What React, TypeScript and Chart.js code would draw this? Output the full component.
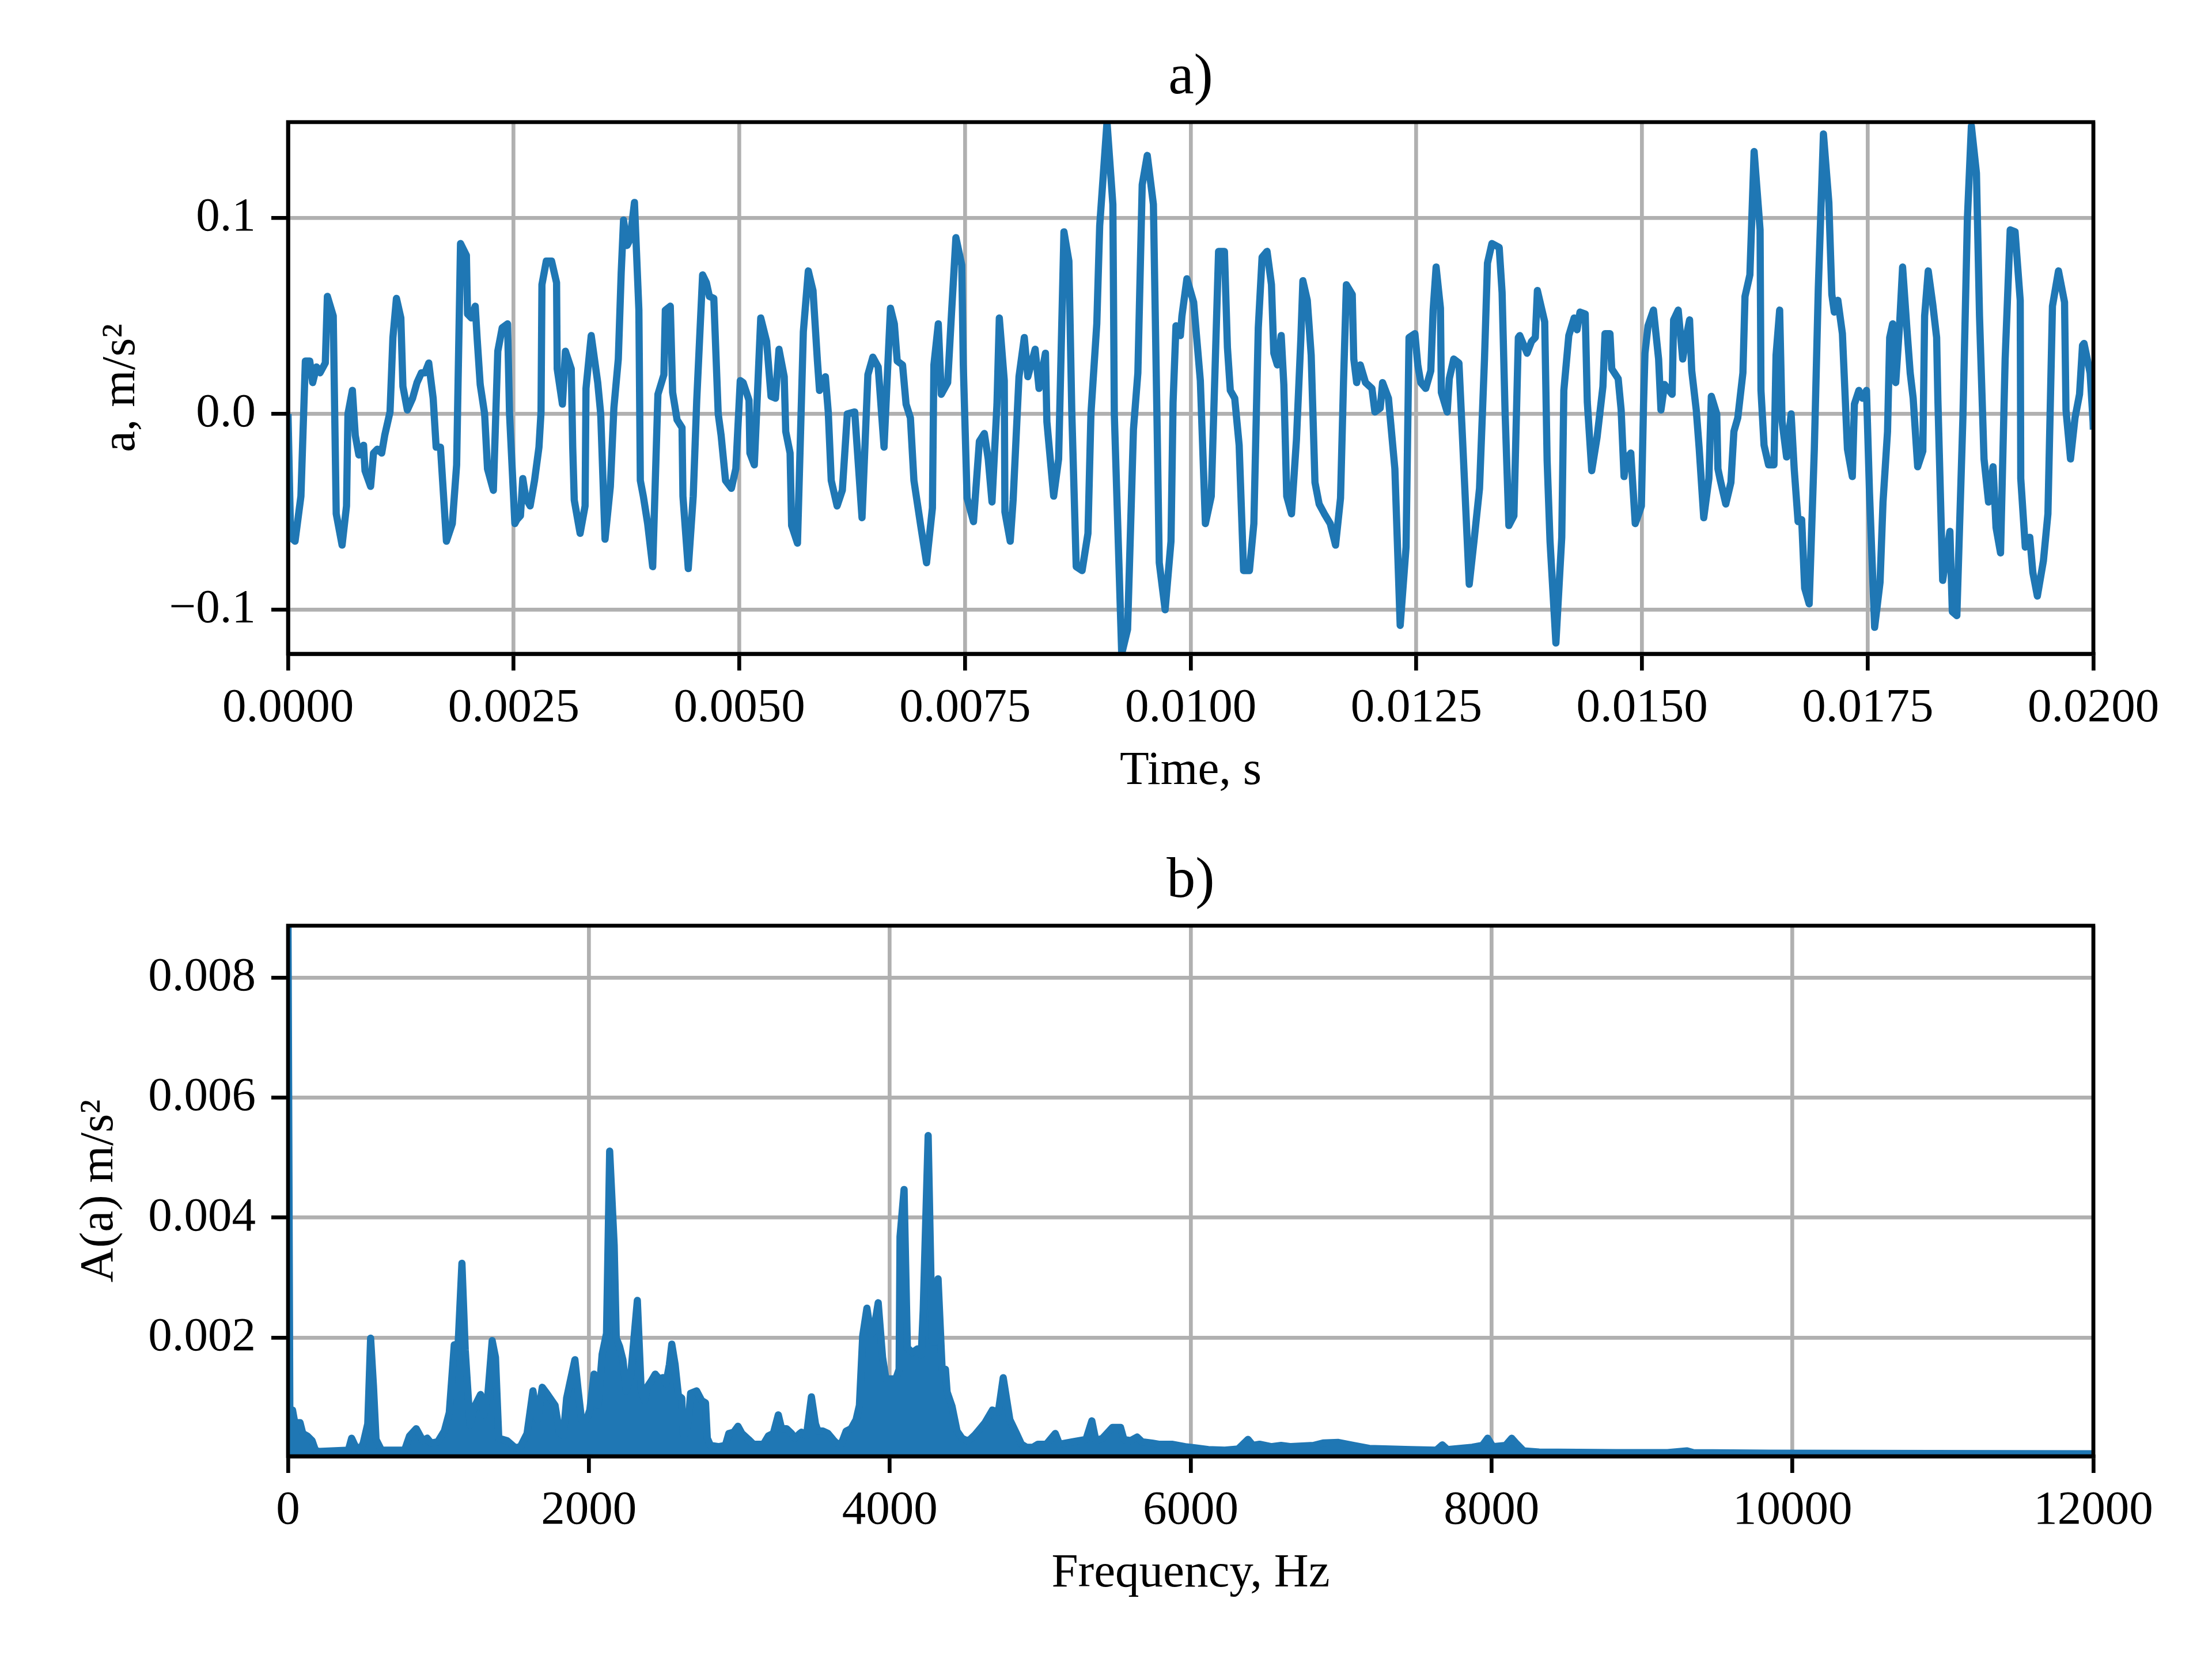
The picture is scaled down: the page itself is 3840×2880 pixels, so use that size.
import React, { useEffect, useRef } from "react";
import { Chart, registerables } from "chart.js";

Chart.register(...registerables);

// ---------- data: time signal (panel a) ----------
const TIME_S = [
  0, 0.029e-3, 0.078e-3, 0.143e-3, 0.192e-3, 0.241e-3, 0.273e-3, 0.316e-3, 0.355e-3, 0.413e-3,
  0.436e-3, 0.501e-3, 0.518e-3, 0.534e-3, 0.599e-3, 0.648e-3, 0.664e-3, 0.713e-3, 0.745e-3, 0.785e-3,
  0.837e-3, 0.853e-3, 0.915e-3, 0.947e-3, 0.99e-3, 1.038e-3, 1.071e-3, 1.13e-3, 1.162e-3, 1.201e-3,
  1.25e-3, 1.273e-3, 1.322e-3, 1.38e-3, 1.429e-3, 1.478e-3, 1.517e-3, 1.559e-3, 1.608e-3, 1.641e-3,
  1.689e-3, 1.755e-3, 1.82e-3, 1.868e-3, 1.911e-3, 1.976e-3, 1.989e-3, 2.031e-3, 2.074e-3, 2.096e-3,
  2.129e-3, 2.178e-3, 2.21e-3, 2.275e-3, 2.324e-3, 2.373e-3, 2.432e-3, 2.454e-3, 2.513e-3, 2.536e-3,
  2.575e-3, 2.601e-3, 2.634e-3, 2.682e-3, 2.731e-3, 2.78e-3, 2.803e-3, 2.813e-3, 2.861e-3, 2.92e-3,
  2.975e-3, 2.982e-3, 3.04e-3, 3.073e-3, 3.138e-3, 3.154e-3, 3.171e-3, 3.236e-3, 3.291e-3, 3.301e-3,
  3.359e-3, 3.431e-3, 3.464e-3, 3.512e-3, 3.571e-3, 3.61e-3, 3.659e-3, 3.691e-3, 3.717e-3, 3.756e-3,
  3.789e-3, 3.838e-3, 3.887e-3, 3.903e-3, 3.936e-3, 3.984e-3, 4.04e-3, 4.098e-3, 4.164e-3, 4.18e-3,
  4.235e-3, 4.261e-3, 4.31e-3, 4.365e-3, 4.375e-3, 4.434e-3, 4.489e-3, 4.528e-3, 4.593e-3, 4.635e-3,
  4.668e-3, 4.717e-3, 4.766e-3, 4.798e-3, 4.847e-3, 4.912e-3, 4.961e-3, 5.01e-3,
  5.042e-3, 5.107e-3, 5.117e-3, 5.166e-3, 5.237e-3, 5.302e-3, 5.351e-3, 5.4e-3, 5.439e-3, 5.497e-3,
  5.514e-3, 5.562e-3, 5.579e-3, 5.644e-3, 5.709e-3, 5.764e-3, 5.816e-3, 5.865e-3, 5.888e-3, 5.953e-3,
  5.985e-3, 6.018e-3, 6.083e-3, 6.141e-3, 6.196e-3, 6.278e-3, 6.359e-3, 6.424e-3, 6.479e-3, 6.538e-3,
  6.603e-3, 6.674e-3, 6.717e-3, 6.749e-3, 6.808e-3, 6.847e-3, 6.895e-3, 6.934e-3, 7.009e-3, 7.074e-3,
  7.139e-3, 7.155e-3, 7.204e-3, 7.237e-3, 7.308e-3, 7.35e-3, 7.399e-3, 7.464e-3, 7.481e-3, 7.523e-3,
  7.594e-3, 7.659e-3, 7.714e-3, 7.757e-3, 7.799e-3, 7.854e-3, 7.88e-3, 7.935e-3, 7.942e-3, 8.001e-3,
  8.033e-3, 8.098e-3, 8.157e-3, 8.196e-3, 8.277e-3, 8.32e-3, 8.391e-3, 8.407e-3, 8.482e-3, 8.537e-3,
  8.596e-3, 8.651e-3, 8.683e-3, 8.732e-3, 8.797e-3, 8.862e-3, 8.895e-3, 8.96e-3, 8.992e-3, 9.073e-3,
  9.138e-3, 9.154e-3, 9.236e-3, 9.301e-3, 9.366e-3, 9.415e-3, 9.463e-3, 9.519e-3, 9.587e-3, 9.626e-3,
  9.652e-3, 9.717e-3, 9.782e-3, 9.805e-3, 9.837e-3, 9.886e-3, 9.903e-3, 9.958e-3,
  10.033e-3, 10.107e-3, 10.163e-3, 10.228e-3, 10.309e-3, 10.374e-3, 10.407e-3, 10.439e-3, 10.488e-3, 10.537e-3,
  10.586e-3, 10.651e-3, 10.7e-3, 10.749e-3, 10.791e-3, 10.846e-3, 10.895e-3, 10.921e-3, 10.96e-3, 11.003e-3,
  11.032e-3, 11.064e-3, 11.117e-3, 11.172e-3, 11.221e-3, 11.243e-3, 11.292e-3, 11.335e-3, 11.377e-3, 11.423e-3,
  11.481e-3, 11.546e-3, 11.605e-3, 11.66e-3, 11.693e-3, 11.725e-3, 11.79e-3, 11.807e-3, 11.839e-3, 11.879e-3,
  11.937e-3, 12.008e-3, 12.041e-3, 12.1e-3, 12.126e-3, 12.191e-3, 12.262e-3, 12.321e-3, 12.386e-3, 12.419e-3,
  12.484e-3, 12.516e-3, 12.549e-3, 12.604e-3, 12.66e-3, 12.686e-3, 12.719e-3, 12.767e-3, 12.777e-3, 12.842e-3,
  12.865e-3, 12.914e-3, 12.972e-3, 13.011e-3, 13.086e-3, 13.141e-3, 13.2e-3, 13.255e-3, 13.288e-3, 13.337e-3,
  13.418e-3, 13.45e-3, 13.483e-3, 13.525e-3, 13.581e-3, 13.63e-3, 13.646e-3, 13.727e-3, 13.776e-3, 13.818e-3,
  13.841e-3, 13.922e-3, 13.949e-3, 13.981e-3, 14.046e-3, 14.111e-3, 14.134e-3, 14.189e-3, 14.248e-3, 14.28e-3,
  14.313e-3, 14.371e-3, 14.394e-3, 14.443e-3, 14.502e-3, 14.567e-3, 14.59e-3, 14.645e-3, 14.665e-3, 14.736e-3,
  14.769e-3, 14.801e-3, 14.827e-3, 14.876e-3, 14.925e-3, 14.964e-3,
  14.993e-3, 15.017e-3, 15.033e-3, 15.067e-3, 15.127e-3, 15.184e-3, 15.21e-3, 15.25e-3, 15.334e-3, 15.35e-3,
  15.401e-3, 15.451e-3, 15.484e-3, 15.527e-3, 15.551e-3, 15.601e-3, 15.634e-3, 15.684e-3, 15.741e-3, 15.768e-3,
  15.828e-3, 15.841e-3, 15.868e-3, 15.928e-3, 15.985e-3, 16.018e-3, 16.061e-3, 16.118e-3, 16.141e-3, 16.195e-3,
  16.242e-3, 16.308e-3, 16.318e-3, 16.352e-3, 16.402e-3, 16.462e-3, 16.485e-3, 16.525e-3, 16.552e-3, 16.602e-3,
  16.652e-3, 16.686e-3, 16.729e-3, 16.769e-3, 16.802e-3, 16.852e-3, 16.909e-3, 16.953e-3, 17.01e-3, 17.07e-3,
  17.103e-3, 17.13e-3, 17.17e-3, 17.22e-3, 17.276e-3, 17.33e-3, 17.353e-3, 17.403e-3, 17.443e-3, 17.487e-3,
  17.52e-3, 17.577e-3, 17.637e-3, 17.67e-3, 17.72e-3, 17.744e-3, 17.777e-3, 17.811e-3, 17.854e-3, 17.887e-3,
  17.937e-3, 17.971e-3, 18.004e-3, 18.054e-3, 18.111e-3, 18.131e-3, 18.171e-3, 18.221e-3, 18.264e-3, 18.278e-3,
  18.331e-3, 18.411e-3, 18.438e-3, 18.488e-3, 18.555e-3, 18.605e-3, 18.649e-3, 18.705e-3, 18.739e-3, 18.789e-3,
  18.839e-3, 18.889e-3, 18.922e-3, 18.972e-3, 19.023e-3, 19.079e-3, 19.133e-3, 19.19e-3, 19.196e-3, 19.246e-3,
  19.296e-3, 19.33e-3, 19.38e-3, 19.447e-3, 19.497e-3, 19.547e-3, 19.614e-3, 19.681e-3, 19.697e-3, 19.747e-3,
  19.797e-3, 19.847e-3, 19.88e-3, 19.897e-3, 19.964e-3, 19.997e-3, 20.0e-3,
];

const ACCEL = [
  0.0, -0.063, -0.065, -0.042, 0.027, 0.027, 0.016, 0.024, 0.021, 0.026,
  0.06, 0.05, -0.002, -0.051, -0.067, -0.047, 0.0, 0.012, -0.011, -0.021,
  -0.016, -0.029, -0.037, -0.02, -0.018, -0.02, -0.011, 0.001, 0.039, 0.059,
  0.049, 0.014, 0.002, 0.008, 0.016, 0.021, 0.021, 0.026, 0.008, -0.017,
  -0.017, -0.065, -0.056, -0.026, 0.087, 0.081, 0.051, 0.049, 0.055, 0.038,
  0.015, 0.0, -0.028, -0.039, 0.032, 0.044, 0.046, 0.0, -0.056, -0.054,
  -0.052, -0.033, -0.043, -0.047, -0.034, -0.017, 0.001, 0.066, 0.078, 0.078,
  0.067, 0.023, 0.005, 0.032, 0.023, -0.017, -0.044, -0.061, -0.047, 0.013,
  0.04, 0.016, 0.0, -0.064, -0.037, 0.003, 0.028, 0.072, 0.099, 0.086,
  0.089, 0.108, 0.053, -0.034, -0.042, -0.056, -0.078, 0.01, 0.02, 0.053,
  0.055, 0.011, -0.003, -0.007, -0.042, -0.079, -0.042, 0.007, 0.071, 0.067,
  0.06, 0.059, 0.0, -0.011, -0.034, -0.038, -0.028, 0.017,
  0.016, 0.007, -0.02, -0.026, 0.049, 0.037, 0.009, 0.008, 0.033, 0.019,
  -0.009, -0.02, -0.057, -0.066, 0.042, 0.073, 0.063, 0.027, 0.012, 0.019,
  0.001, -0.034, -0.047, -0.039, 0.0, 0.001, -0.053, 0.02, 0.029, 0.024,
  -0.017, 0.054, 0.046, 0.027, 0.025, 0.005, -0.002, -0.034, -0.057, -0.076,
  -0.048, 0.025, 0.046, 0.01, 0.016, 0.051, 0.09, 0.076, 0.025, -0.043,
  -0.055, -0.014, -0.01, -0.023, -0.045, 0.005, 0.049, 0.017, -0.05, -0.065,
  -0.044, 0.019, 0.039, 0.019, 0.033, 0.013, 0.031, -0.004, -0.042, -0.023,
  0.093, 0.078, 0.001, -0.078, -0.08, -0.061, 0.0, 0.046, 0.096, 0.149,
  0.107, 0.0, -0.1225, -0.11, -0.008, 0.021, 0.117, 0.132, 0.107, 0.0,
  -0.076, -0.1, -0.065, 0.006, 0.045, 0.04, 0.05, 0.069,
  0.057, 0.017, -0.056, -0.042, 0.083, 0.083, 0.034, 0.012, 0.008, -0.016,
  -0.08, -0.08, -0.056, 0.044, 0.08, 0.083, 0.066, 0.031, 0.025, 0.04,
  0.015, -0.042, -0.051, -0.013, 0.039, 0.068, 0.058, 0.03, -0.035, -0.046,
  -0.051, -0.056, -0.067, -0.043, 0.016, 0.066, 0.061, 0.028, 0.016, 0.025,
  0.016, 0.013, 0.001, 0.003, 0.016, 0.008, -0.028, -0.108, -0.068, 0.039,
  0.041, 0.025, 0.016, 0.013, 0.022, 0.053, 0.075, 0.054, 0.011, 0.001,
  0.018, 0.028, 0.026, -0.012, -0.087, -0.064, -0.038, 0.028, 0.077, 0.087,
  0.085, 0.062, 0.001, -0.057, -0.052, 0.039, 0.04, 0.031, 0.037, 0.039,
  0.063, 0.047, -0.024, -0.065, -0.117, -0.063, 0.012, 0.04, 0.049, 0.043,
  0.052, 0.051, 0.006, -0.029, -0.012, 0.014, 0.041, 0.041, 0.023, 0.018,
  0.002, -0.032, -0.023, -0.02, -0.056, -0.051,
  -0.047, 0.005, 0.031, 0.045, 0.053, 0.028, 0.002, 0.015, 0.01, 0.048,
  0.053, 0.028, 0.038, 0.048, 0.022, 0.002, -0.018, -0.053, -0.033, 0.009,
  0.0, -0.028, -0.034, -0.046, -0.035, -0.009, -0.002, 0.021, 0.06, 0.071,
  0.134, 0.094, 0.012, -0.016, -0.026, -0.026, 0.03, 0.053, -0.004, -0.022,
  0.0, -0.028, -0.055, -0.054, -0.089, -0.097, -0.018, 0.064, 0.143, 0.108,
  0.061, 0.052, 0.058, 0.041, -0.018, -0.032, 0.005, 0.012, 0.008, 0.012,
  -0.04, -0.109, -0.086, -0.045, -0.009, 0.039, 0.046, 0.016, 0.046, 0.075,
  0.042, 0.021, 0.008, -0.027, -0.019, 0.05, 0.073, 0.056, 0.039, 0.007,
  -0.085, -0.06, -0.101, -0.103, -0.002, 0.1, 0.147, 0.123, 0.05, -0.023,
  -0.045, -0.027, -0.058, -0.071, 0.028, 0.094, 0.093, 0.058, -0.033, -0.068,
  -0.063, -0.081, -0.093, -0.075, -0.051, 0.055, 0.073, 0.057, 0.002, -0.023,
  -0.002, 0.01, 0.035, 0.036, 0.021, -0.004, -0.008,
];

// ---------- data: amplitude spectrum (panel b) ----------
const FREQ_HZ = [
  0, 12, 30, 45, 80, 98, 127, 160, 182, 204, 401, 423, 445, 478, 500, 530, 549, 568, 585, 621,
  775, 808, 852, 896, 925, 951, 995, 1039, 1072, 1105, 1130, 1156, 1178, 1210, 1236, 1280, 1302, 1329, 1357, 1379,
  1401, 1456, 1511, 1545, 1589, 1628, 1659, 1690, 1720, 1775, 1804, 1830, 1852, 1874, 1907, 1929, 1951, 1984, 2006, 2034,
  2061, 2088, 2117, 2138, 2168, 2182, 2204, 2226, 2248, 2278, 2322, 2347, 2369, 2391, 2413, 2441, 2468, 2490, 2512, 2535,
  2551, 2573, 2595, 2617, 2626, 2643, 2661, 2676, 2716, 2749, 2775, 2787, 2808, 2863, 2907, 2930, 2962, 2991, 3017, 3061,
  3094, 3160, 3193, 3226, 3259, 3281, 3314, 3347, 3369, 3402, 3413, 3446, 3479, 3506, 3523, 3556, 3589, 3622, 3644, 3677,
  3710, 3743, 3776, 3798, 3820, 3848, 3875, 3893, 3923, 3952, 3974, 4040, 4062, 4068, 4095, 4117, 4150, 4183, 4209, 4222,
  4255, 4282, 4304, 4321, 4348, 4370, 4381, 4414, 4447, 4480, 4512, 4534, 4567, 4600, 4633, 4682, 4721, 4754, 4798, 4842,
  4875, 4908, 4952, 4985, 5040, 5100, 5128, 5216, 5260, 5304, 5343, 5370, 5414, 5480, 5534, 5556, 5600, 5644, 5677, 5743,
  5787, 5875, 5963, 6029, 6117, 6227, 6315, 6381, 6414, 6458, 6535, 6601, 6667, 6816, 6880, 6982, 7085, 7187, 7461, 7632,
  7673, 7707, 7871, 7939, 7974, 8008, 8093, 8134, 8162, 8213, 8316, 8828, 9170, 9297, 9341, 9854, 12000,
];

const AMPL = [
  0.00887, 0.0008, 0.00079, 0.00058, 0.00058, 0.0004, 0.00036, 0.00028, 0.00012, 0.0001, 0.00012, 0.00032, 0.0002, 0.00012, 0.00024, 0.00056, 0.00199, 0.00119, 0.0003, 0.00012,
  0.00012, 0.00036, 0.00048, 0.00028, 0.00032, 0.00024, 0.00026, 0.00044, 0.00075, 0.00188, 0.00185, 0.00324, 0.00179, 0.00054, 0.00083, 0.00105, 0.00071, 0.00107, 0.00195, 0.00167,
  0.00032, 0.00028, 0.00016, 0.00018, 0.0004, 0.00111, 0.00063, 0.00117, 0.00107, 0.00087, 0.00042, 0.00036, 0.00099, 0.00125, 0.00163, 0.00111, 0.00063, 0.00063, 0.00079, 0.00139,
  0.00087, 0.00172, 0.00207, 0.00511, 0.00354, 0.00199, 0.00185, 0.00163, 0.00111, 0.00138, 0.00262, 0.00115, 0.00095, 0.00119, 0.00127, 0.00139, 0.00131, 0.00133, 0.00123, 0.00155,
  0.00189, 0.00155, 0.00103, 0.00099, 0.0004, 0.0004, 0.0006, 0.00107, 0.00111, 0.00095, 0.00091, 0.00032, 0.0002, 0.00018, 0.0002, 0.0004, 0.00042, 0.00052, 0.0004, 0.0003,
  0.00022, 0.00022, 0.00036, 0.0004, 0.00071, 0.00048, 0.00048, 0.0004, 0.00032, 0.0004, 0.00042, 0.00036, 0.00101, 0.00056, 0.00044, 0.00044, 0.0004, 0.0003, 0.00024, 0.00022,
  0.00044, 0.00048, 0.00063, 0.00087, 0.00203, 0.00249, 0.00205, 0.00211, 0.00258, 0.00167, 0.00131, 0.00131, 0.00147, 0.00368, 0.00447, 0.00183, 0.00175, 0.00181, 0.00171, 0.00245,
  0.00537, 0.00193, 0.00193, 0.00298, 0.00147, 0.00147, 0.00109, 0.00085, 0.00044, 0.00032, 0.00028, 0.0003, 0.00038, 0.00048, 0.00058, 0.00079, 0.00075, 0.00133, 0.00063, 0.0004,
  0.00022, 0.00017, 0.00017, 0.00022, 0.00022, 0.0004, 0.00022, 0.00026, 0.00028, 0.0003, 0.00061, 0.00028, 0.00032, 0.0005, 0.0005, 0.0003, 0.00028, 0.00034, 0.00026, 0.00024,
  0.00022, 0.00022, 0.00018, 0.00016, 0.00013, 0.00012, 0.00014, 0.0003, 0.0002, 0.00022, 0.00018, 0.0002, 0.00018, 0.0002, 0.00024, 0.00025, 0.0002, 0.00015, 0.00013, 0.00012,
  0.00021, 0.00013, 0.00017, 0.0002, 0.00032, 0.00018, 0.0002, 0.00032, 0.00024, 0.00011, 0.00009, 0.00008, 0.00008, 0.00011, 0.00008, 0.00007, 0.00006,
];

// ---------- tick values ----------
const TIME_TICKS = [0, 0.0025, 0.005, 0.0075, 0.01, 0.0125, 0.015, 0.0175, 0.02];
const ACCEL_TICKS = [-0.1, 0, 0.1];
const FREQ_TICKS = [0, 2000, 4000, 6000, 8000, 10000, 12000];
const AMPL_TICKS = [0.002, 0.004, 0.006, 0.008];

const BLUE = "#1f77b4";
const GRID = "#b0b0b0";
const FONT = "'Liberation Serif', 'Times New Roman', serif";
const LINE_W = 12.5;
const AX_W = 6.67;

const framePlugin = {
  id: "frame",
  afterDraw(chart: any) {
    const { ctx, chartArea: a } = chart;
    ctx.save();
    ctx.strokeStyle = "#000";
    ctx.lineWidth = AX_W;
    ctx.strokeRect(a.left, a.top, a.right - a.left, a.bottom - a.top);
    ctx.restore();
  },
};

function minusFix(s: string) {
  return s.replace("-", "\u2212");
}

function makeConfig(p: any) {
  return {
    type: "line",
    data: {
      datasets: [
        {
          data: p.xs.map((x: number, i: number) => ({ x, y: p.ys[i] })),
          borderColor: BLUE,
          backgroundColor: BLUE,
          borderWidth: LINE_W,
          pointRadius: 0,
          tension: 0,
          fill: p.fill ? "origin" : false,
          clip: 0,
          borderJoinStyle: "round",
          borderCapStyle: "butt",
        },
      ],
    },
    options: {
      responsive: false,
      maintainAspectRatio: false,
      devicePixelRatio: 1,
      animation: false,
      events: [],
      layout: { padding: { left: 100, right: 206, top: 0, bottom: 0 } },
      plugins: {
        legend: { display: false },
        tooltip: { enabled: false },
        title: {
          display: true,
          fullSize: false,
          text: p.title,
          color: "#000",
          font: { family: FONT, size: 100, weight: "normal", lineHeight: 1.2 },
          padding: { top: p.titlePadTop, bottom: p.titlePadBottom },
        },
      },
      scales: {
        x: {
          type: "linear",
          min: p.xMin,
          max: p.xMax,
          afterBuildTicks: (s: any) => {
            s.ticks = p.xTicks.map((v: number) => ({ value: v }));
          },
          afterFit: (s: any) => {
            s.height = p.xAxisH;
          },
          grid: {
            color: GRID,
            lineWidth: AX_W,
            drawTicks: true,
            tickColor: "#000",
            tickLength: 29,
            tickWidth: AX_W,
          },
          border: { display: true, color: "#000", width: AX_W },
          ticks: {
            color: "#000",
            font: { family: FONT, size: 83, lineHeight: 1.2 },
            padding: 16,
            maxRotation: 0,
            autoSkip: false,
            callback: (v: number) => p.xFmt(v),
          },
          title: {
            display: true,
            text: p.xTitle,
            color: "#000",
            font: { family: FONT, size: 83, lineHeight: 1.2 },
            padding: { top: 0, bottom: p.xTitlePad },
          },
        },
        y: {
          type: "linear",
          min: p.yMin,
          max: p.yMax,
          afterBuildTicks: (s: any) => {
            s.ticks = p.yTicks.map((v: number) => ({ value: v }));
          },
          afterFit: (s: any) => {
            s.width = 400;
          },
          grid: {
            color: GRID,
            lineWidth: AX_W,
            drawTicks: true,
            tickColor: "#000",
            tickLength: 29,
            tickWidth: AX_W,
          },
          border: { display: true, color: "#000", width: AX_W },
          ticks: {
            color: "#000",
            font: { family: FONT, size: 83, lineHeight: 1.2 },
            padding: 27,
            autoSkip: false,
            callback: (v: number) => p.yFmt(v),
          },
          title: {
            display: true,
            text: p.yTitle,
            color: "#000",
            font: { family: FONT, size: 83, lineHeight: 1.2 },
            padding: { top: p.yTitlePad, bottom: 0 },
          },
        },
      },
    },
    plugins: [framePlugin],
  };
}

export default function App() {
  const refA = useRef<HTMLCanvasElement>(null);
  const refB = useRef<HTMLCanvasElement>(null);

  useEffect(() => {
    const chartA = new Chart(
      refA.current as HTMLCanvasElement,
      makeConfig({
        xs: TIME_S,
        ys: ACCEL,
        fill: false,
        title: "a)",
        titlePadTop: 76,
        titlePadBottom: 16,
        xMin: 0,
        xMax: 0.02,
        yMin: -0.1225,
        yMax: 0.149,
        xTicks: TIME_TICKS,
        yTicks: ACCEL_TICKS,
        xFmt: (v: number) => v.toFixed(4),
        yFmt: (v: number) => minusFix(v.toFixed(1)),
        xTitle: "Time, s",
        yTitle: "a, m/s\u00B2",
        xAxisH: 305,
        xTitlePad: 51,
        yTitlePad: 61,
      }) as any
    );
    const chartB = new Chart(
      refB.current as HTMLCanvasElement,
      makeConfig({
        xs: FREQ_HZ,
        ys: AMPL,
        fill: true,
        title: "b)",
        titlePadTop: 31,
        titlePadBottom: 16,
        xMin: 0,
        xMax: 12000,
        yMin: 0.00002,
        yMax: 0.00887,
        xTicks: FREQ_TICKS,
        yTicks: AMPL_TICKS,
        xFmt: (v: number) => String(Math.round(v)),
        yFmt: (v: number) => v.toFixed(3),
        xTitle: "Frequency, Hz",
        yTitle: "A(a) m/s\u00B2",
        xAxisH: 352,
        xTitlePad: 98,
        yTitlePad: 23,
      }) as any
    );
    return () => {
      chartA.destroy();
      chartB.destroy();
    };
  }, []);

  return (
    <div
      style={{
        position: "absolute",
        left: 0,
        top: 0,
        width: 3840,
        height: 2880,
        background: "#ffffff",
        overflow: "hidden",
      }}
    >
      <canvas
        ref={refA}
        width={3840}
        height={1440}
        style={{ position: "absolute", left: 0, top: 0, width: 3840, height: 1440 }}
      />
      <canvas
        ref={refB}
        width={3840}
        height={1440}
        style={{ position: "absolute", left: 0, top: 1440, width: 3840, height: 1440 }}
      />
    </div>
  );
}
